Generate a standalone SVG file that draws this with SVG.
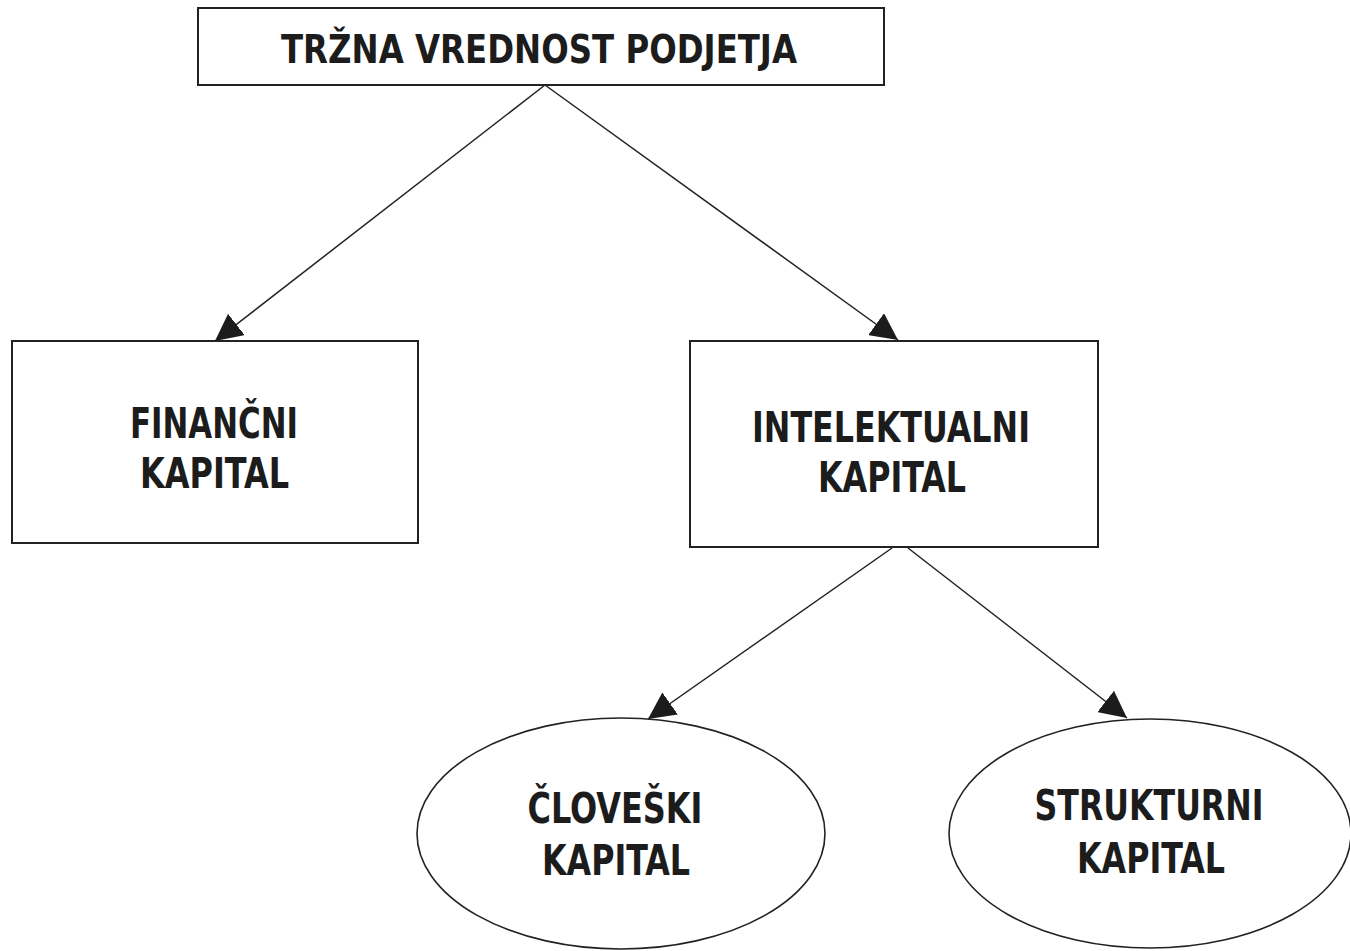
<svg xmlns="http://www.w3.org/2000/svg" width="1350" height="951" viewBox="0 0 1350 951">
  <style>
    .box { fill: #ffffff; stroke: #222222; stroke-width: 2; }
    .conn { stroke: #222222; stroke-width: 1.5; fill: none; }
    .lbl { font-family: "Liberation Sans Narrow", "DejaVu Sans Condensed", "Liberation Sans", sans-serif; font-weight: bold; fill: #1c1c1c; text-anchor: middle; }
    .big { font-size: 43px; }
    .top { font-size: 39px; }
  </style>
  <defs>
    <marker id="arrow" markerUnits="userSpaceOnUse" viewBox="0 0 27 27" refX="27" refY="13.5" markerWidth="27" markerHeight="27" orient="auto">
      <path d="M0,0 L27,13.5 L0,27 z" fill="#1c1c1c"/>
    </marker>
  </defs>
  <rect width="1350" height="951" fill="#ffffff"/>

  <g id="connectors">
    <line class="conn" x1="545" y1="85" x2="215" y2="341" marker-end="url(#arrow)"/>
    <line class="conn" x1="545" y1="85" x2="898" y2="340" marker-end="url(#arrow)"/>
    <line class="conn" x1="892" y1="548" x2="648" y2="719" marker-end="url(#arrow)"/>
    <line class="conn" x1="908" y1="548" x2="1127" y2="718" marker-end="url(#arrow)"/>
  </g>

  <g id="trzna-vrednost">
    <rect class="box" x="198" y="8" width="686" height="77"/>
    <text class="lbl top" x="539" y="63" textLength="516" lengthAdjust="spacingAndGlyphs">TRŽNA VREDNOST PODJETJA</text>
  </g>

  <g id="financni-kapital">
    <rect class="box" x="12" y="341" width="406" height="202"/>
    <text class="lbl big" x="214" y="438" textLength="168" lengthAdjust="spacingAndGlyphs">FINANČNI</text>
    <text class="lbl big" x="214.5" y="488" textLength="149" lengthAdjust="spacingAndGlyphs">KAPITAL</text>
  </g>

  <g id="intelektualni-kapital">
    <rect class="box" x="690" y="341" width="408" height="206"/>
    <text class="lbl big" x="891" y="442" textLength="278" lengthAdjust="spacingAndGlyphs">INTELEKTUALNI</text>
    <text class="lbl big" x="892" y="492" textLength="148" lengthAdjust="spacingAndGlyphs">KAPITAL</text>
  </g>

  <g id="cloveski-kapital">
    <ellipse class="box" cx="621" cy="833.5" rx="204" ry="115.5" style="stroke-width:1.6"/>
    <text class="lbl big" x="615" y="823" textLength="175" lengthAdjust="spacingAndGlyphs">ČLOVEŠKI</text>
    <text class="lbl big" x="616" y="875" textLength="148" lengthAdjust="spacingAndGlyphs">KAPITAL</text>
  </g>

  <g id="strukturni-kapital">
    <ellipse class="box" cx="1150" cy="833.5" rx="201" ry="114.5" style="stroke-width:1.6"/>
    <text class="lbl big" x="1149" y="820" textLength="229" lengthAdjust="spacingAndGlyphs">STRUKTURNI</text>
    <text class="lbl big" x="1151" y="873" textLength="148" lengthAdjust="spacingAndGlyphs">KAPITAL</text>
  </g>
</svg>
